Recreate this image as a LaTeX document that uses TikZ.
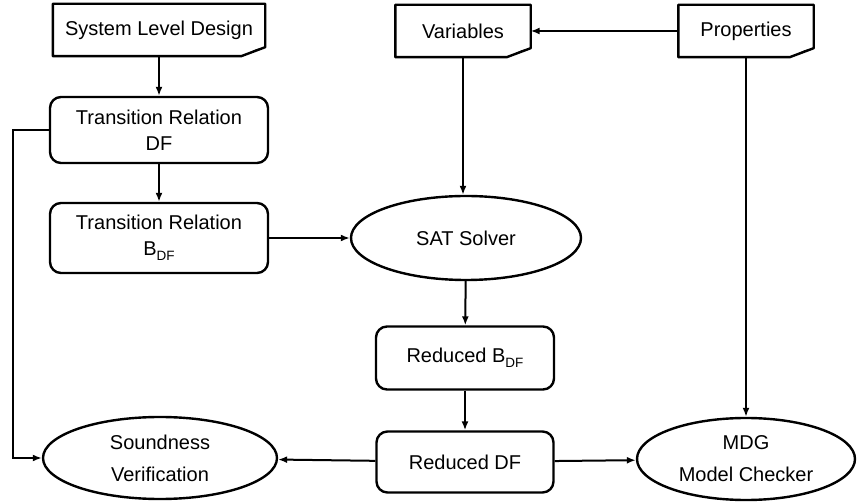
\documentclass[tikz,border=0pt]{standalone}
\usepackage{fontspec}
\setmainfont{Liberation Sans}
\usetikzlibrary{shapes.geometric,arrows.meta}

% subscript "DF" in the labels
\newcommand\sdf{\raisebox{-0.5ex}{\fontsize{13.5}{13.5}\selectfont DF}}

% document outline with a folded bottom-right corner
\newcommand\docoutline[1]{%
  \draw[boxline] (#1.north west) -- (#1.north east) -- ([yshift=9pt]#1.south east)
    -- ([xshift=-24pt]#1.south east) -- (#1.south west) -- cycle;
  \fill ([xshift=-24pt]#1.south east) -- ([yshift=9pt]#1.south east)
    -- ([xshift=-9pt,yshift=7pt]#1.south east) -- cycle;}

\begin{document}
\begin{tikzpicture}[x=1pt,y=-1pt,
  every node/.style={font=\fontsize{20}{26}\selectfont, inner sep=0pt, align=center},
  boxline/.style={line width=2.4pt, line join=round},
  docbox/.style={minimum height=52pt},
  stepbox/.style={draw, boxline, rounded corners=11pt},
  oval/.style={draw, boxline, ellipse},
  flow/.style={line width=2pt, -{Latex[length=9pt,width=7pt]}}
]
\useasboundingbox (0,0) rectangle (857,502);

% input documents
\node[docbox, minimum width=212pt] (sld) at (159,30) {System Level Design};
\node[docbox, minimum width=135pt] (var) at (463,31) {Variables};
\node[docbox, minimum width=135pt] (prop) at (746,31) {Properties};
\docoutline{sld}
\docoutline{var}
\docoutline{prop}

% processing steps
\node[stepbox, minimum width=218pt, minimum height=66pt] (trdf) at (159,130) {Transition Relation\\DF};
\node[stepbox, minimum width=218pt, minimum height=70pt] (trb) at (159,238) {Transition Relation\\B\sdf};
\node[oval, minimum width=230pt, minimum height=84pt] (sat) at (466,238) {SAT Solver};
\node[stepbox, minimum width=178pt, minimum height=63pt] (rbdf) at (465,358) {Reduced B\sdf};
\node[stepbox, minimum width=177pt, minimum height=61pt] (rdf) at (465,462) {Reduced DF};
\node[oval, minimum width=234pt, minimum height=82pt] (sound) at (160,458) {Soundness\\[6pt]Verification};
\node[oval, minimum width=218pt, minimum height=82pt] (mdg) at (746,459) {MDG\\[6pt]Model Checker};

\coordinate (lane) at (13,0);

% connectors
\draw[flow] (sld) -- (trdf);
\draw[flow] (trdf) -- (trb);
\draw[flow] (trb) -- (sat);
\draw[flow] (prop) -- (var);
\draw[flow] (var.south) -- (var.south |- sat.north);
\draw[flow] (sat) -- (rbdf);
\draw[flow] (rbdf) -- (rdf);
\draw[flow] (rdf) -- (sound);
\draw[flow] (rdf) -- (mdg);
\draw[flow] (prop.south) -- (prop.south |- mdg.north);
\draw[flow] (trdf.west) -- (trdf.west -| lane) -- (sound.west -| lane) -- (sound.west);
\end{tikzpicture}
\end{document}
